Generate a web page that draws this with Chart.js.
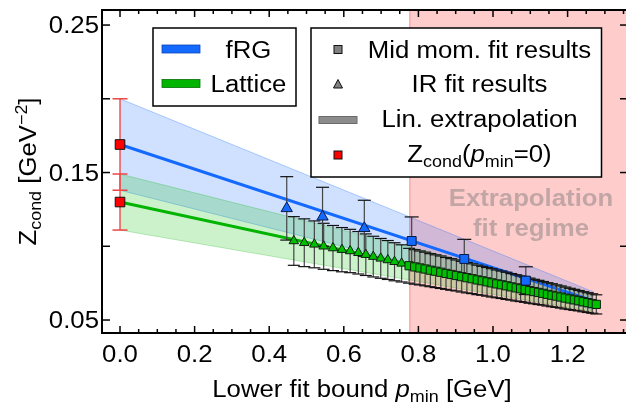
<!DOCTYPE html>
<html>
<head>
<meta charset="utf-8">
<script src="https://cdn.jsdelivr.net/npm/chart.js@4.4.1/dist/chart.umd.min.js"></script>
<style>
  html, body { margin: 0; padding: 0; background: #fff; }
  canvas { display: block; }
</style>
</head>
<body>
<canvas id="chart" width="626" height="403"></canvas>
<script>
// linear extrapolations (from p_min = 0 to end of fit range)
const fitX = [0, 1.27];
const frgLine = [0.169, 0.063];
const frgUpper = [0.200, 0.069];
const frgLower = [0.138, 0.057];
const latLine = [0.130, 0.0606];
const latUpper = [0.149, 0.068];
const latLower = [0.111, 0.0556];

// Z_cond(p_min = 0): fRG, lattice
const zeroX = [0, 0];
const zeroY = [0.169, 0.130];
const zeroErr = [0.031, 0.019];

// fRG fit results
const frgIrX = [0.447, 0.543, 0.655];
const frgIrY = [0.1257, 0.1200, 0.1122];
const frgIrErr = [0.0215, 0.0200, 0.0190];
const frgMidX = [0.782, 0.923, 1.088];
const frgMidY = [0.1036, 0.0914, 0.0767];
const frgMidErr = [0.0163, 0.0133, 0.0094];

// lattice IR fit results
const latIrX = [0.466, 0.494, 0.521, 0.546, 0.571, 0.595, 0.617, 0.639, 0.659, 0.679, 0.699, 0.718, 0.736, 0.755];
const latIrY = [0.1036, 0.1024, 0.1013, 0.1000, 0.0988, 0.0977, 0.0968, 0.0956, 0.0943, 0.0930, 0.0918, 0.0907, 0.0895, 0.0884];
const latIrErr = [0.0165, 0.0162, 0.0159, 0.0156, 0.0153, 0.0150, 0.0147, 0.0144, 0.0141, 0.0138, 0.0135, 0.0132, 0.0129, 0.0126];

// lattice mid momentum fit results
const latMidX = [0.775, 0.790, 0.804, 0.818, 0.832, 0.846, 0.860, 0.874, 0.888, 0.902,
  0.916, 0.930, 0.944, 0.958, 0.971, 0.984, 0.997, 1.010, 1.023, 1.036,
  1.049, 1.062, 1.074, 1.086, 1.098, 1.110, 1.122, 1.134, 1.146, 1.158,
  1.170, 1.182, 1.194, 1.206, 1.218, 1.230, 1.242, 1.254, 1.266, 1.277];
const latMidY = [0.0868, 0.0860, 0.0853, 0.0846, 0.0838, 0.0831, 0.0824, 0.0816, 0.0809, 0.0802,
  0.0794, 0.0787, 0.0780, 0.0772, 0.0766, 0.0759, 0.0752, 0.0745, 0.0739, 0.0732,
  0.0725, 0.0718, 0.0712, 0.0706, 0.0699, 0.0693, 0.0687, 0.0681, 0.0674, 0.0668,
  0.0662, 0.0656, 0.0649, 0.0643, 0.0637, 0.0631, 0.0624, 0.0618, 0.0612, 0.0606];
const latMidErr = [0.0118, 0.0117, 0.0115, 0.0114, 0.0112, 0.0111, 0.0110, 0.0108, 0.0107, 0.0105,
  0.0104, 0.0103, 0.0101, 0.0100, 0.0098, 0.0097, 0.0096, 0.0094, 0.0093, 0.0092,
  0.0090, 0.0089, 0.0087, 0.0086, 0.0085, 0.0083, 0.0082, 0.0080, 0.0079, 0.0078,
  0.0076, 0.0075, 0.0074, 0.0072, 0.0071, 0.0069, 0.0068, 0.0067, 0.0066, 0.0065];

// extrapolation fit regime starts here
const regimeStart = 0.777;

// axis ticks
const xTickValues = [0, 0.2, 0.4, 0.6, 0.8, 1.0, 1.2];
const xTickLabels = ['0.0', '0.2', '0.4', '0.6', '0.8', '1.0', '1.2'];
const yTickValues = [0.05, 0.15, 0.25];
const yTickLabels = ['0.05', '0.15', '0.25'];

const BLUE = 'rgb(20,105,255)';
const GREEN = 'rgb(0,180,0)';
const FONT = '"Liberation Sans", Arial, Helvetica, sans-serif';
const STRETCH = 1.12; // text in the original is a bit wider than Arial

const pts = (xs, ys) => xs.map((x, i) => ({ x, y: ys[i] }));

// draws text made of pieces (sub/superscripts, italics)
function drawRich(ctx, parts, x, y, align, angle) {
  const fontOf = p => `${p.italic ? 'italic ' : ''}${p.bold ? 'bold ' : ''}${p.size || 23}px ${FONT}`;
  ctx.save();
  ctx.translate(x, y);
  if (angle) ctx.rotate(angle);
  ctx.scale(STRETCH, 1);
  ctx.textAlign = 'left';
  ctx.textBaseline = 'alphabetic';
  let total = 0;
  parts.forEach(p => { ctx.font = fontOf(p); total += ctx.measureText(p.t).width; });
  let cx = align === 'center' ? -total / 2 : align === 'right' ? -total : 0;
  parts.forEach(p => {
    ctx.font = fontOf(p);
    ctx.fillText(p.t, cx, p.dy || 0);
    cx += ctx.measureText(p.t).width;
  });
  ctx.restore();
}

function line(ctx, x1, y1, x2, y2) {
  ctx.beginPath();
  ctx.moveTo(x1, y1);
  ctx.lineTo(x2, y2);
  ctx.stroke();
}

// pink region + its label, behind everything
const regimePlugin = {
  id: 'regime',
  beforeDatasetsDraw(chart) {
    const { ctx, chartArea: a, scales } = chart;
    const x0 = scales.x.getPixelForValue(regimeStart);
    ctx.save();
    ctx.fillStyle = '#ffcccc';
    ctx.fillRect(x0, a.top, a.right - x0, a.bottom - a.top);
    ctx.strokeStyle = 'rgba(240,110,110,0.7)';
    ctx.lineWidth = 1;
    line(ctx, x0, a.top, x0, a.bottom);
    ctx.fillStyle = 'rgba(120,120,120,0.45)';
    drawRich(ctx, [{ t: 'Extrapolation', bold: true }], 531, 206, 'center');
    drawRich(ctx, [{ t: 'fit regime', bold: true }], 531, 236, 'center');
    ctx.restore();
  }
};

// error bars, drawn just before the first marker dataset
const errorBarPlugin = {
  id: 'errorBars',
  beforeDatasetDraw(chart, args) {
    if (!chart.data.datasets[args.index].errorsHere) return;
    const { ctx, scales } = chart;
    ctx.save();
    chart.data.datasets.forEach(ds => {
      if (!ds.err) return;
      ctx.lineWidth = ds.errWidth || 1.2;
      ds.data.forEach((p, i) => {
        const px = scales.x.getPixelForValue(p.x);
        const top = scales.y.getPixelForValue(p.y + ds.err[i]);
        const bot = scales.y.getPixelForValue(p.y - ds.err[i]);
        const c = ds.capHalf || 6;
        ctx.strokeStyle = ds.errColor || '#444';
        line(ctx, px, top, px, bot);
        ctx.strokeStyle = ds.capColor || '#111';
        line(ctx, px - c, top, px + c, top);
        line(ctx, px - c, bot, px + c, bot);
      });
    });
    ctx.restore();
  }
};

// frame, ticks, labels, titles and legends
const framePlugin = {
  id: 'frame',
  afterDraw(chart) {
    const { ctx, chartArea: a, scales } = chart;
    const xs = scales.x, ys = scales.y;
    ctx.save();
    ctx.strokeStyle = '#000';
    ctx.lineWidth = 1.5;
    for (let i = -1; i <= 28; i++) {
      const px = xs.getPixelForValue(i * 0.05);
      if (px < a.left + 1 || px > a.right - 1) continue;
      const len = i % 4 === 0 ? 7 : 4;
      line(ctx, px, a.bottom, px, a.bottom - len);
      line(ctx, px, a.top, px, a.top + len);
    }
    for (let i = 1; i <= 5; i++) {
      const py = ys.getPixelForValue(i * 0.05);
      line(ctx, a.left, py, a.left + 8, py);
      line(ctx, a.right, py, a.right - 6, py);
    }
    ctx.lineWidth = 2;
    line(ctx, a.left, a.top, a.left, a.bottom + 1);
    line(ctx, a.left - 1, a.bottom, a.right, a.bottom);
    line(ctx, a.left - 1, a.top, a.right, a.top);

    ctx.fillStyle = '#000';
    xTickValues.forEach((v, i) => {
      drawRich(ctx, [{ t: xTickLabels[i] }], xs.getPixelForValue(v), 362, 'center');
    });
    yTickValues.forEach((v, i) => {
      drawRich(ctx, [{ t: yTickLabels[i] }], 99, ys.getPixelForValue(v) + 8.3, 'right');
    });

    drawRich(ctx, [
      { t: 'Lower fit bound ' }, { t: 'p', italic: true },
      { t: 'min', size: 16, dy: 5 }, { t: ' [GeV]' }
    ], 362, 396.5, 'center');
    drawRich(ctx, [
      { t: 'Z' }, { t: 'cond', size: 16, dy: 5 }, { t: ' [GeV' },
      { t: '\u22122', size: 16, dy: -9 }, { t: ']' }
    ], 36, (a.top + a.bottom) / 2, 'center', -Math.PI / 2);

    // legend 1
    ctx.fillStyle = '#fff';
    ctx.fillRect(153, 28, 143, 78);
    ctx.lineWidth = 1.5;
    ctx.strokeStyle = '#000';
    ctx.strokeRect(153, 28, 143, 78);
    [[BLUE, 49, 'fRG', '#0a46b4'], [GREEN, 83.5, 'Lattice', '#067006']].forEach(([col, y, txt, edge]) => {
      ctx.fillStyle = col;
      ctx.fillRect(162, y - 4, 38, 8);
      ctx.strokeStyle = edge;
      ctx.lineWidth = 0.8;
      ctx.strokeRect(162, y - 4, 38, 8);
      ctx.fillStyle = '#000';
      drawRich(ctx, [{ t: txt }], 248.5, y + 8.5, 'center');
    });

    // legend 2
    ctx.fillStyle = '#fff';
    ctx.fillRect(311, 28, 290.5, 149);
    ctx.lineWidth = 1.5;
    ctx.strokeStyle = '#000';
    ctx.strokeRect(311, 28, 290.5, 149);
    ctx.lineWidth = 1;
    ctx.strokeStyle = '#111';
    ctx.fillStyle = '#808080';
    ctx.fillRect(334, 45.5, 8, 8);
    ctx.strokeRect(334, 45.5, 8, 8);
    ctx.beginPath();
    ctx.moveTo(338, 79.5); ctx.lineTo(342.5, 88); ctx.lineTo(333.5, 88); ctx.closePath();
    ctx.fill(); ctx.stroke();
    ctx.fillStyle = '#8c8c8c';
    ctx.fillRect(319, 116.5, 38, 7);
    ctx.strokeStyle = '#6a6a6a';
    ctx.strokeRect(319, 116.5, 38, 7);
    ctx.fillStyle = '#ff0000';
    ctx.strokeStyle = '#111';
    ctx.fillRect(334, 151, 8, 8);
    ctx.strokeRect(334, 151, 8, 8);
    ctx.fillStyle = '#000';
    drawRich(ctx, [{ t: 'Mid mom. fit results' }], 479.5, 57.5, 'center');
    drawRich(ctx, [{ t: 'IR fit results' }], 479.5, 92, 'center');
    drawRich(ctx, [{ t: 'Lin. extrapolation' }], 479.5, 126.5, 'center');
    drawRich(ctx, [
      { t: 'Z' }, { t: 'cond', size: 16, dy: 5 }, { t: '(' }, { t: 'p', italic: true },
      { t: 'min', size: 16, dy: 5 }, { t: '=0)' }
    ], 479.5, 162, 'center');
    ctx.restore();
  }
};

const bandStyle = (fillCol, edgeCol, fill, order) => ({
  showLine: true, fill, backgroundColor: fillCol, borderColor: edgeCol,
  borderWidth: 1, pointRadius: 0, order
});

new Chart(document.getElementById('chart'), {
  type: 'scatter',
  data: {
    datasets: [
      { data: pts(fitX, frgUpper), ...bandStyle('rgba(20,105,255,0.2)', 'rgba(20,105,255,0.3)', '+1', 20) },
      { data: pts(fitX, frgLower), ...bandStyle('rgba(20,105,255,0.2)', 'rgba(20,105,255,0.3)', false, 20) },
      { data: pts(fitX, latUpper), ...bandStyle('rgba(0,190,0,0.2)', 'rgba(0,170,0,0.25)', '+1', 19) },
      { data: pts(fitX, latLower), ...bandStyle('rgba(0,190,0,0.2)', 'rgba(0,170,0,0.25)', false, 19) },
      { data: pts(fitX, frgLine), showLine: true, borderColor: BLUE, borderWidth: 3, pointRadius: 0, order: 10 },
      { data: pts(fitX, latLine), showLine: true, borderColor: GREEN, borderWidth: 3, pointRadius: 0, order: 10 },
      {
        data: pts(latIrX, latIrY), err: latIrErr, errorsHere: true,
        pointStyle: 'triangle', pointRadius: 5.5, backgroundColor: 'rgb(0,190,0)',
        borderColor: '#102010', borderWidth: 1, order: 6
      },
      {
        data: pts(latMidX, latMidY), err: latMidErr,
        pointStyle: 'rect', pointRadius: 5.8, backgroundColor: 'rgb(0,190,0)',
        borderColor: '#102010', borderWidth: 1, order: 5
      },
      {
        data: pts(frgIrX, frgIrY), err: frgIrErr, capHalf: 6.5,
        pointStyle: 'triangle', pointRadius: 6.5, backgroundColor: BLUE,
        borderColor: '#0a1a40', borderWidth: 1, order: 4
      },
      {
        data: pts(frgMidX, frgMidY), err: frgMidErr, capHalf: 7,
        pointStyle: 'rect', pointRadius: 6.3, backgroundColor: BLUE,
        borderColor: '#0a1a40', borderWidth: 1, order: 3
      },
      {
        data: pts(zeroX, zeroY), err: zeroErr, capHalf: 7.5, errColor: '#ee5555', capColor: '#ee4444', errWidth: 1.5,
        pointStyle: 'rect', pointRadius: 6.8, backgroundColor: '#ff0000',
        borderColor: '#111', borderWidth: 1, order: 2
      }
    ]
  },
  options: {
    responsive: false,
    animation: false,
    layout: { autoPadding: false, padding: { left: 102, right: 0, top: 10, bottom: 70 } },
    scales: {
      x: { type: 'linear', display: false, min: -0.0483, max: 1.3566 },
      y: { type: 'linear', display: false, min: 0.0412, max: 0.2602 }
    },
    plugins: { legend: { display: false }, tooltip: { enabled: false } }
  },
  plugins: [regimePlugin, errorBarPlugin, framePlugin]
});
</script>
</body>
</html>
